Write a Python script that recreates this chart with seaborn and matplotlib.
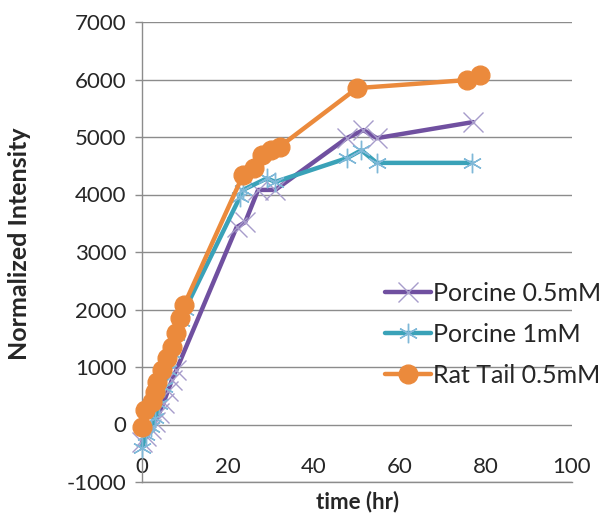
import matplotlib
matplotlib.use("Agg")
import matplotlib.pyplot as plt
import seaborn as sns
import pandas as pd
from matplotlib.lines import Line2D

# Time course of normalized fluorescence intensity for three collagen samples
porcine05_t = [0, 1, 2, 3, 4, 5, 6, 7, 8, 22, 24, 27, 31, 47.6, 51.5, 54.6, 77]
porcine05_v = [-300, -200, -80, 50, 200, 380, 580, 780, 950,
               3430, 3520, 4080, 4080, 4980, 5120, 4980, 5260]

porcine1_t = [0, 1, 2, 3, 4, 5, 6, 7, 8, 9, 10, 22.8, 23.5, 29, 31, 47.6, 51, 54.6, 76.7]
porcine1_v = [-400, -180, -50, 120, 350, 650, 950, 1250, 1550, 1800, 2000,
              3960, 4080, 4280, 4220, 4630, 4770, 4550, 4550]

rattail_t = [0, 0.8, 2.3, 3, 3.5, 4.7, 5.8, 7, 8, 8.8, 9.8,
             23.5, 26, 28, 30, 32, 50, 75.5, 78.5]
rattail_v = [-40, 250, 390, 560, 740, 950, 1160, 1350, 1590, 1850, 2080,
             4340, 4460, 4690, 4770, 4830, 5850, 5990, 6080]

labels = ["Porcine 0.5mM", "Porcine 1mM", "Rat Tail 0.5mM"]
x_ticks = [0, 20, 40, 60, 80, 100]
y_ticks = [-1000, 0, 1000, 2000, 3000, 4000, 5000, 6000, 7000]

df = pd.concat([
    pd.DataFrame({"time": porcine05_t, "value": porcine05_v, "series": labels[0]}),
    pd.DataFrame({"time": porcine1_t, "value": porcine1_v, "series": labels[1]}),
    pd.DataFrame({"time": rattail_t, "value": rattail_v, "series": labels[2]}),
])

sns.set_theme(style="white")
plt.rcParams["font.family"] = ["Lato", "DejaVu Sans"]

fig = plt.figure(figsize=(6.15, 5.22), dpi=100)
ax = fig.add_axes([142 / 615, 1 - 482 / 522, (572 - 142) / 615, (482 - 22) / 522])

line_colors = ["#7050A0", "#3AA2B8", "#EB8A3C"]
marker_colors = ["#A79CCB", "#7FB8D8", "#EB8A3C"]
markers = ["x", (6, 2, 0), "o"]
sizes = [14, 14, 13.5]
mews = [1.0, 1.0, 1.0]

for lab, lc, mc, mk, ms, mw in zip(labels, line_colors, marker_colors, markers, sizes, mews):
    sub = df[df["series"] == lab]
    sns.lineplot(data=sub, x="time", y="value", ax=ax, sort=False, estimator=None,
                 color=lc, linewidth=3.2, marker=mk, markersize=ms,
                 markeredgecolor=mc, markerfacecolor=mc, markeredgewidth=mw,
                 clip_on=False, legend=False, zorder=3)

ax.set_xlim(0, 100)
ax.set_ylim(-1000, 7000)
ax.set_xticks(x_ticks)
ax.set_yticks(y_ticks)
ax.set_xticklabels([str(v) for v in x_ticks])
ax.set_yticklabels([str(v) for v in y_ticks])

ax.grid(axis="y", color="#8C8C8C", linewidth=1.0)
ax.grid(axis="x", visible=False)
ax.set_axisbelow(True)

for s in ["top", "right"]:
    ax.spines[s].set_visible(False)
for s in ["left", "bottom"]:
    ax.spines[s].set_color("#8C8C8C")
    ax.spines[s].set_linewidth(1.0)
    ax.spines[s].set_zorder(1)
ax.spines["left"].set_position(("data", 0))

ax.tick_params(axis="y", direction="out", length=5, width=1, color="#8C8C8C",
               labelsize=16, pad=6, left=True)
ax.tick_params(axis="x", length=0, labelsize=16, pad=-18, bottom=True)

ax.set_xlabel("time (hr)", fontsize=16, fontweight="bold")
ax.set_ylabel("Normalized Intensity", fontsize=18, fontweight="bold")
ax.xaxis.set_label_coords((358 - 142) / 430, (482 - 502) / 460)
ax.xaxis.label.set_va("center")
ax.yaxis.set_label_coords((19 - 142) / 430, (482 - 244) / 460)
ax.yaxis.label.set_va("center")

handles = [Line2D([0], [0], color=lc, linewidth=3.2, marker=mk, markersize=ms,
                  markeredgecolor=mc, markerfacecolor=mc, markeredgewidth=mw)
           for lc, mc, mk, ms, mw in zip(line_colors, marker_colors, markers, sizes, mews)]
fig.legend(handles, labels, loc="upper left", bbox_to_anchor=(385 / 615, 1 - 282 / 522),
           frameon=False, fontsize=18, handlelength=1.85, handletextpad=0.08,
           labelspacing=0.72, borderaxespad=0, borderpad=0)

fig.savefig("out.png", dpi=100)
